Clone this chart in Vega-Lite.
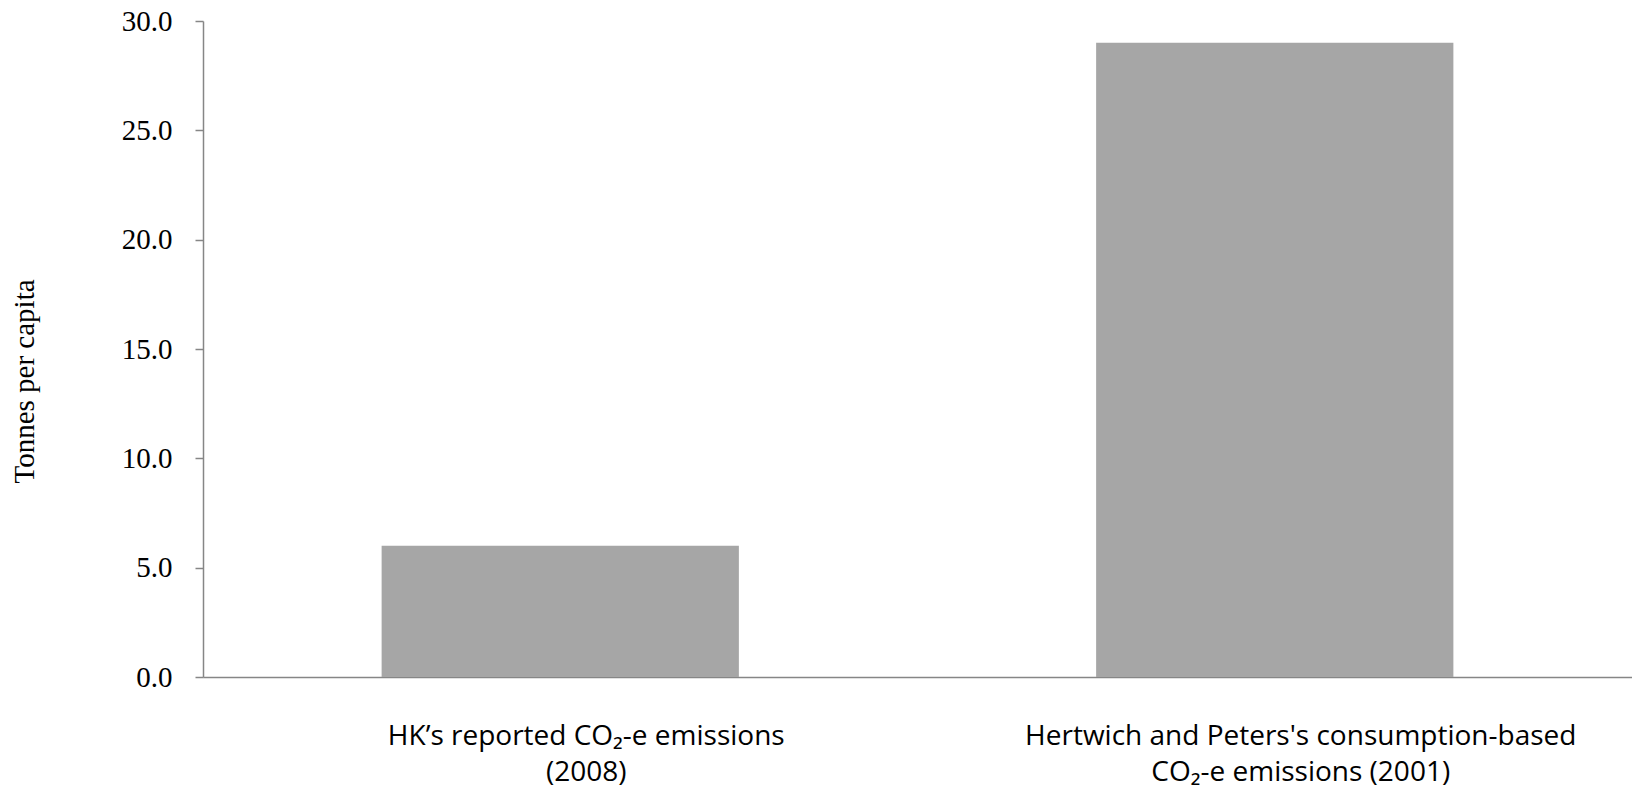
{
  "$schema": "https://vega.github.io/schema/vega-lite/v6.json",
  "autosize": "none",
  "width": 1429,
  "height": 656,
  "padding": {"left": 203, "top": 21, "right": 0, "bottom": 114},
  "background": "white",
  "config": {"view": {"stroke": null}},
  "data": {
    "values": [
      {"category": "HK’s reported CO₂-e emissions\n(2008)", "value": 6.0},
      {"category": "Hertwich and Peters's consumption-based\nCO₂-e emissions (2001)", "value": 29.0}
    ]
  },
  "mark": {"type": "bar", "color": "#a6a6a6"},
  "encoding": {
    "x": {
      "field": "category",
      "type": "nominal",
      "sort": null,
      "scale": {"paddingInner": 0.5, "paddingOuter": 0.25},
      "axis": {
        "title": null,
        "labelAngle": 0,
        "labelExpr": "split(datum.label, '\\n')",
        "labelFont": "Open Sans",
        "labelFontSize": 28,
        "labelLineHeight": 36,
        "labelColor": "#000000",
        "labelPadding": 45,
        "labelOffset": 26,
        "labelBaseline": "top",
        "ticks": false,
        "domainColor": "#868686",
        "domainWidth": 1.5,
        "labelLimit": 1000
      }
    },
    "y": {
      "field": "value",
      "type": "quantitative",
      "scale": {"domain": [0, 30], "nice": false},
      "axis": {
        "title": "Tonnes per capita",
        "values": [0, 5, 10, 15, 20, 25, 30],
        "format": ".1f",
        "grid": false,
        "labelFont": "Liberation Serif",
        "labelFontSize": 29,
        "labelColor": "#000000",
        "labelPadding": 23,
        "tickSize": 8,
        "tickColor": "#868686",
        "tickWidth": 1.5,
        "domainColor": "#868686",
        "domainWidth": 1.5,
        "titleFont": "Liberation Serif",
        "titleFontSize": 29,
        "titleFontWeight": "normal",
        "titleColor": "#000000",
        "titleAngle": 270,
        "titleAlign": "center",
        "titleBaseline": "middle",
        "titleX": -179,
        "titleY": 360
      }
    }
  }
}
